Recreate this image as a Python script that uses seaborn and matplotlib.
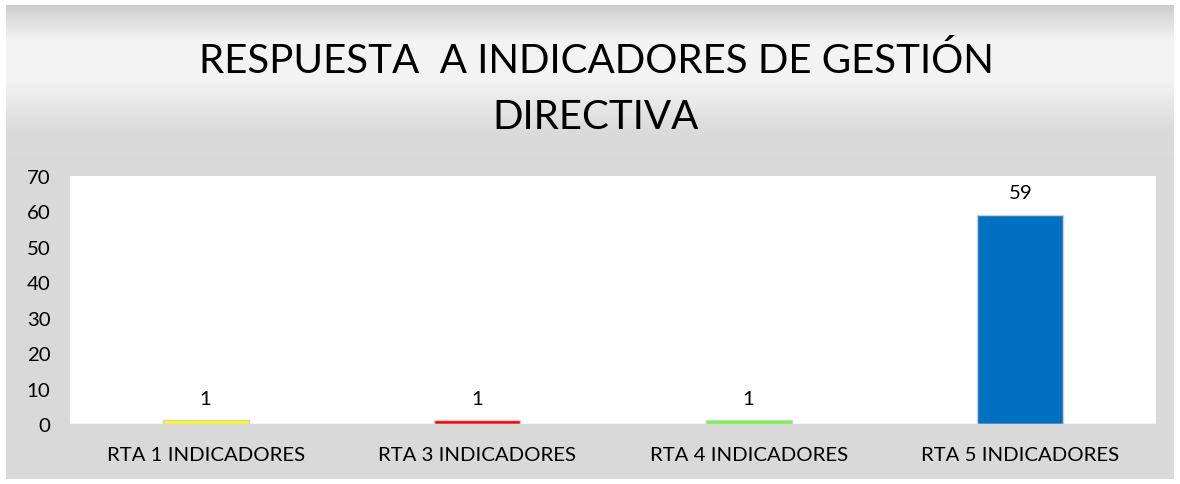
import numpy as np
import pandas as pd
import matplotlib
matplotlib.use("Agg")
import matplotlib.pyplot as plt
import seaborn as sns

categories = ["RTA 1 INDICADORES", "RTA 3 INDICADORES", "RTA 4 INDICADORES", "RTA 5 INDICADORES"]
values = [1, 1, 1, 59]
bar_colors = ["#FFFF00", "#FF0000", "#66FF33", "#0070C0"]
y_ticks = [0, 10, 20, 30, 40, 50, 60, 70]
title = "RESPUESTA  A INDICADORES DE GESTIÓN\nDIRECTIVA"

sns.set_theme(style="white")
plt.rcParams['font.family'] = ['Lato', 'DejaVu Sans']

W, H = 1180, 485
fig = plt.figure(figsize=(W / 100, H / 100), dpi=100)
fig.patch.set_facecolor("white")

# gradient background
bg = fig.add_axes([6 / W, 5 / H, 1168 / W, 474 / H])
stops_y = np.array([0, 8, 35, 75, 125, 160, 474])
stops_v = np.array([0.80, 0.84, 0.95, 0.95, 0.855, 0.85, 0.85])
yy = np.arange(474)
vals = np.interp(yy, stops_y, stops_v)
img = np.repeat(vals[:, None], 8, axis=1)
bg.imshow(img, cmap="gray", vmin=0, vmax=1, aspect="auto", extent=[0, 1, 1, 0], interpolation="nearest")
bg.axis("off")

left, right, top, bottom = 70, 1156, 177, 425
ax = fig.add_axes([left / W, 1 - bottom / H, (right - left) / W, (bottom - top) / H])
ax.set_facecolor("white")

df = pd.DataFrame({"cat": categories, "val": values})
sns.barplot(data=df, x="cat", y="val", hue="cat", palette=bar_colors, legend=False,
            width=0.317, edgecolor="#d0d0d0", linewidth=1.0, ax=ax, saturation=1)

ax.set_ylim(0, 70)
ax.set_yticks(y_ticks)
ax.set_xlabel("")
ax.set_ylabel("")
ax.tick_params(axis="both", length=0, labelsize=14.7, colors="black")
ax.tick_params(axis="x", pad=16)
ax.tick_params(axis="y", pad=14)
for s in ["top", "right", "left"]:
    ax.spines[s].set_visible(False)
ax.spines["bottom"].set_color("#d9d9d9")
ax.spines["bottom"].set_linewidth(1.0)

for i, v in enumerate(values):
    ax.annotate(str(v), (i, v), xytext=(0, 10), textcoords="offset points",
                ha="center", va="bottom", fontsize=14.7, color="black")

fig.text(596 / W, 1 - 89 / H, title, ha="center", va="center", fontsize=29,
         color="black", linespacing=1.65)

fig.savefig("out.png", dpi=100)
